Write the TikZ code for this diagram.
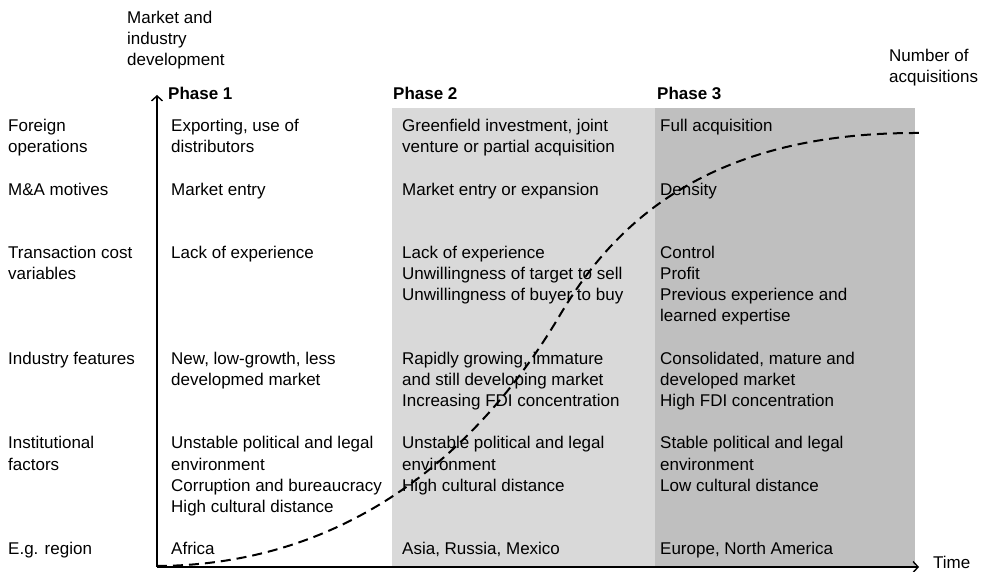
\documentclass[tikz,border=0pt]{standalone}
\usepackage{fontspec}
\setmainfont{Liberation Sans}
\usetikzlibrary{arrows.meta}
\definecolor{phasetwo}{HTML}{D9D9D9}
\definecolor{phasethree}{HTML}{BFBFBF}
\begin{document}
\begin{tikzpicture}[x=1pt,y=-1pt,
  cell/.style={anchor=north west, inner sep=0pt, align=left,
    font=\fontsize{17}{21.15}\selectfont},
  head/.style={cell, font=\fontsize{17}{21.15}\selectfont\bfseries},
  axis/.style={line width=1.8pt,
    -{Straight Barb[length=5pt,width=11pt,line width=1.4pt]}},
  trend/.style={line width=2pt, dash pattern=on 10pt off 6pt}]
\useasboundingbox (0,0) rectangle (991,572);

% shaded phase panels
\fill[phasetwo] (392,108) rectangle (655,566);
\fill[phasethree] (655,108) rectangle (915,566);

% axes
\coordinate (origin) at (157,567);
\coordinate (ytip) at (157,95);
\coordinate (xtip) at (919,567);
\draw[axis] (origin) -- (ytip);
\draw[axis] (origin) -- (xtip);

% axis captions
\node[cell] (ylabel) at (127,8.6) {\strut Market and\\industry\\development};
\node[cell] (nlabel) at (889,46.6) {\strut Number of\\acquisitions};
\node[cell] (xlabel) at (933,553.6) {\strut Time};

% acquisitions trend
\coordinate (c0) at (157,566);
\coordinate (c1) at (350,565);
\coordinate (c2) at (480,450);
\coordinate (cm) at (560,315);
\coordinate (c3) at (610,231);
\coordinate (c4) at (700,132);
\coordinate (c5) at (919,133);
\draw[trend] (c0) .. controls (c1) and (c2) .. (cm)
                  .. controls (c3) and (c4) .. (c5);

% row headings
\node[cell] (r1) at (8,116.6)  {\strut Foreign\\operations};
\node[cell] (r2) at (8,180.05) {\strut M\&A motives};
\node[cell] (r3) at (8,243.5)  {\strut Transaction cost\\variables};
\node[cell] (r4) at (8,349.25) {\strut Industry features};
\node[cell] (r5) at (8,433.85) {\strut Institutional\\factors};
\node[cell] (r6) at (8,539.6)  {\strut E.g. region};

% phase headings
\node[head] (h1) at (168,84.6) {\strut Phase 1};
\node[head] (h2) at (393,84.6) {\strut Phase 2};
\node[head] (h3) at (657,84.6) {\strut Phase 3};

% phase 1
\node[cell] (a1) at (171,116.6)  {\strut Exporting, use of\\distributors};
\node[cell] (a2) at (171,180.05) {\strut Market entry};
\node[cell] (a3) at (171,243.5)  {\strut Lack of experience};
\node[cell] (a4) at (171,349.25) {\strut New, low-growth, less\\developmed market};
\node[cell] (a5) at (171,433.85) {\strut Unstable political and legal\\environment\\Corruption and bureaucracy\\High cultural distance};
\node[cell] (a6) at (171,539.6)  {\strut Africa};

% phase 2
\node[cell] (b1) at (402,116.6)  {\strut Greenfield investment, joint\\venture or partial acquisition};
\node[cell] (b2) at (402,180.05) {\strut Market entry or expansion};
\node[cell] (b3) at (402,243.5)  {\strut Lack of experience\\Unwillingness of target to sell\\Unwillingness of buyer to buy};
\node[cell] (b4) at (402,349.25) {\strut Rapidly growing, immature\\and still developing market\\Increasing FDI concentration};
\node[cell] (b5) at (402,433.85) {\strut Unstable political and legal\\environment\\High cultural distance};
\node[cell] (b6) at (402,539.6)  {\strut Asia, Russia, Mexico};

% phase 3
\node[cell] (d1) at (660,116.6)  {\strut Full acquisition};
\node[cell] (d2) at (660,180.05) {\strut Density};
\node[cell] (d3) at (660,243.5)  {\strut Control\\Profit\\Previous experience and\\learned expertise};
\node[cell] (d4) at (660,349.25) {\strut Consolidated, mature and\\developed market\\High FDI concentration};
\node[cell] (d5) at (660,433.85) {\strut Stable political and legal\\environment\\Low cultural distance};
\node[cell] (d6) at (660,539.6)  {\strut Europe, North America};
\end{tikzpicture}
\end{document}
